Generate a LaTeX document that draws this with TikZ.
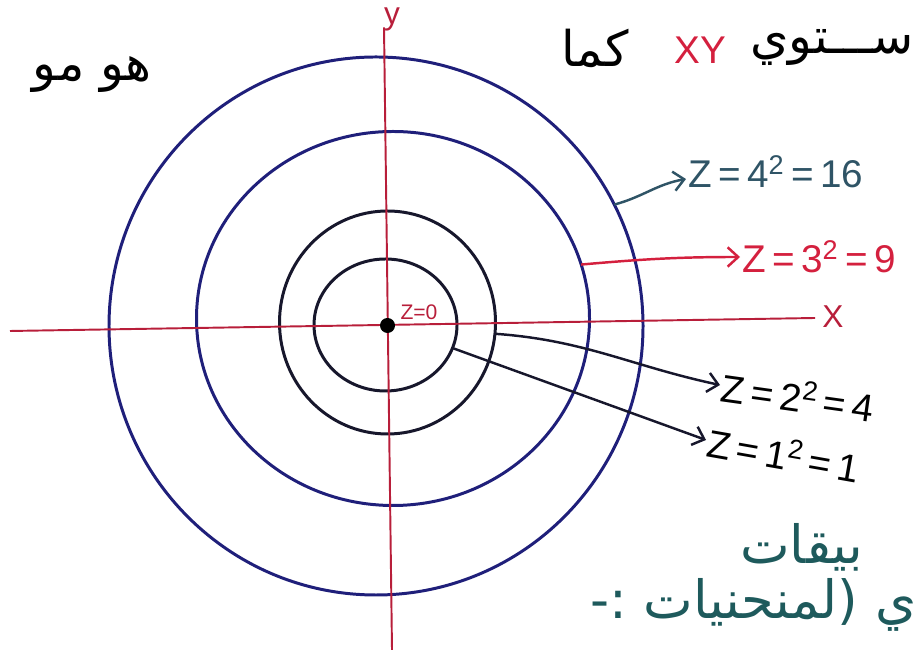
\documentclass[tikz,border=0pt]{standalone}
\usepackage{fontspec}
\setmainfont{Liberation Sans}
\newfontfamily\arabicfont[Script=Arabic]{DejaVu Sans}
\TeXXeTstate=1
\usetikzlibrary{arrows.meta,shapes.geometric}
\definecolor{axisred}{HTML}{B81E3A}
\definecolor{labelred}{HTML}{D4203E}
\definecolor{ringblue}{HTML}{1F1F7A}
\definecolor{ringdark}{HTML}{17172C}
\definecolor{tealink}{HTML}{2F5466}
\definecolor{inkteal}{HTML}{1E5A5C}

\begin{document}
\begin{tikzpicture}[
  ring/.style={draw, ellipse, inner sep=0pt, outer sep=0pt, line width=1.7pt},
  axis/.style={axisred, line width=1.1pt},
  pointer/.style={line width=1.4pt, -{Straight Barb[length=6pt,width=11pt]}},
  level/.style={font=\fontsize{22}{26}\selectfont, inner sep=1pt},
  ar/.style={font=\fontsize{28}{32}\selectfont\arabicfont, inner sep=0pt}
]
  \useasboundingbox (0,0) rectangle (18.34,13);
  \clip (0,0) rectangle (18.34,13);

  % level curves z = x^2 + y^2
  \node[ring, ringblue, minimum width=10.68cm, minimum height=10.76cm] (c4) at (7.52,6.48) {};
  \node[ring, ringblue, minimum width=7.86cm, minimum height=7.48cm] (c3) at (7.86,6.63) {};
  \node[ring, ringdark, minimum width=4.32cm, minimum height=4.46cm] (c2) at (7.75,6.55) {};
  \node[ring, ringdark, minimum width=2.86cm, minimum height=2.64cm] (c1) at (7.71,6.50) {};

  % axes
  \coordinate (xl) at (0.2,6.38);
  \coordinate (xr) at (16.3,6.64);
  \coordinate (yb) at (7.84,0);
  \coordinate (yt) at (7.68,12.45);
  \draw[axis] (xl) -- (xr);
  \draw[axis] (yb) -- (yt);
  \node[axisred, font=\fontsize{18}{20}\selectfont] (xlab) at (16.66,6.66) {X};
  \node[axisred, font=\fontsize{18}{20}\selectfont, inner sep=1pt] (ylab) at (7.84,12.62) {y};

  % origin
  \node[circle, fill=black, inner sep=0pt, minimum size=0.3cm] (o) at (7.75,6.49) {};
  \node[axisred, font=\fontsize{12}{14}\selectfont] (l0) at (8.38,6.76) {Z=0};

  % level labels
  \node[level, anchor=west, text=tealink] (l16) at (13.72,9.56) {Z\,=\,4\textsuperscript{2}\,=\,16};
  \node[level, anchor=west, text=labelred] (l9) at (14.8,7.86) {Z\,=\,3\textsuperscript{2}\,=\,9};
  \node[level, anchor=west, rotate=-8] (l4) at (14.4,5.3) {Z\,=\,2\textsuperscript{2}\,=\,4};
  \node[level, anchor=west, rotate=-10] (l1) at (14.12,4.2) {Z\,=\,1\textsuperscript{2}\,=\,1};

  \draw[pointer, tealink] (c4.27.5) to[out=15, in=190] ([yshift=-4pt]l16.west);
  \draw[pointer, labelred] (c3.16.8) to[out=5, in=180] (l9.west);
  \draw[pointer, ringdark] (c2.-6.5) to[out=-4, in=168] (l4.west);
  \draw[pointer, ringdark] (c1.-19) -- (l1.west);

  % page text
  \node[ar, anchor=east] (t1) at (3.04,11.5) {\beginR هو مو\endR};
  \node[ar] (t2) at (11.9,12.04) {\beginR كما\endR};
  \node[labelred, font=\fontsize{22}{26}\selectfont] (t3) at (14.0,12.0) {XY};
  \node[ar, anchor=east] (t4) at (18.28,12.04) {\beginR ســـتوي\endR};
  \node[ar, anchor=west, text=inkteal, font=\fontsize{30}{34}\selectfont\arabicfont] (b1) at (14.8,2.05) {\beginR بيقات\endR};
  \node[ar, anchor=west, text=inkteal, font=\fontsize{30}{34}\selectfont\arabicfont] (b2) at (11.8,0.9) {\beginR ي (لمنحنيات :-\endR};
\end{tikzpicture}
\end{document}
